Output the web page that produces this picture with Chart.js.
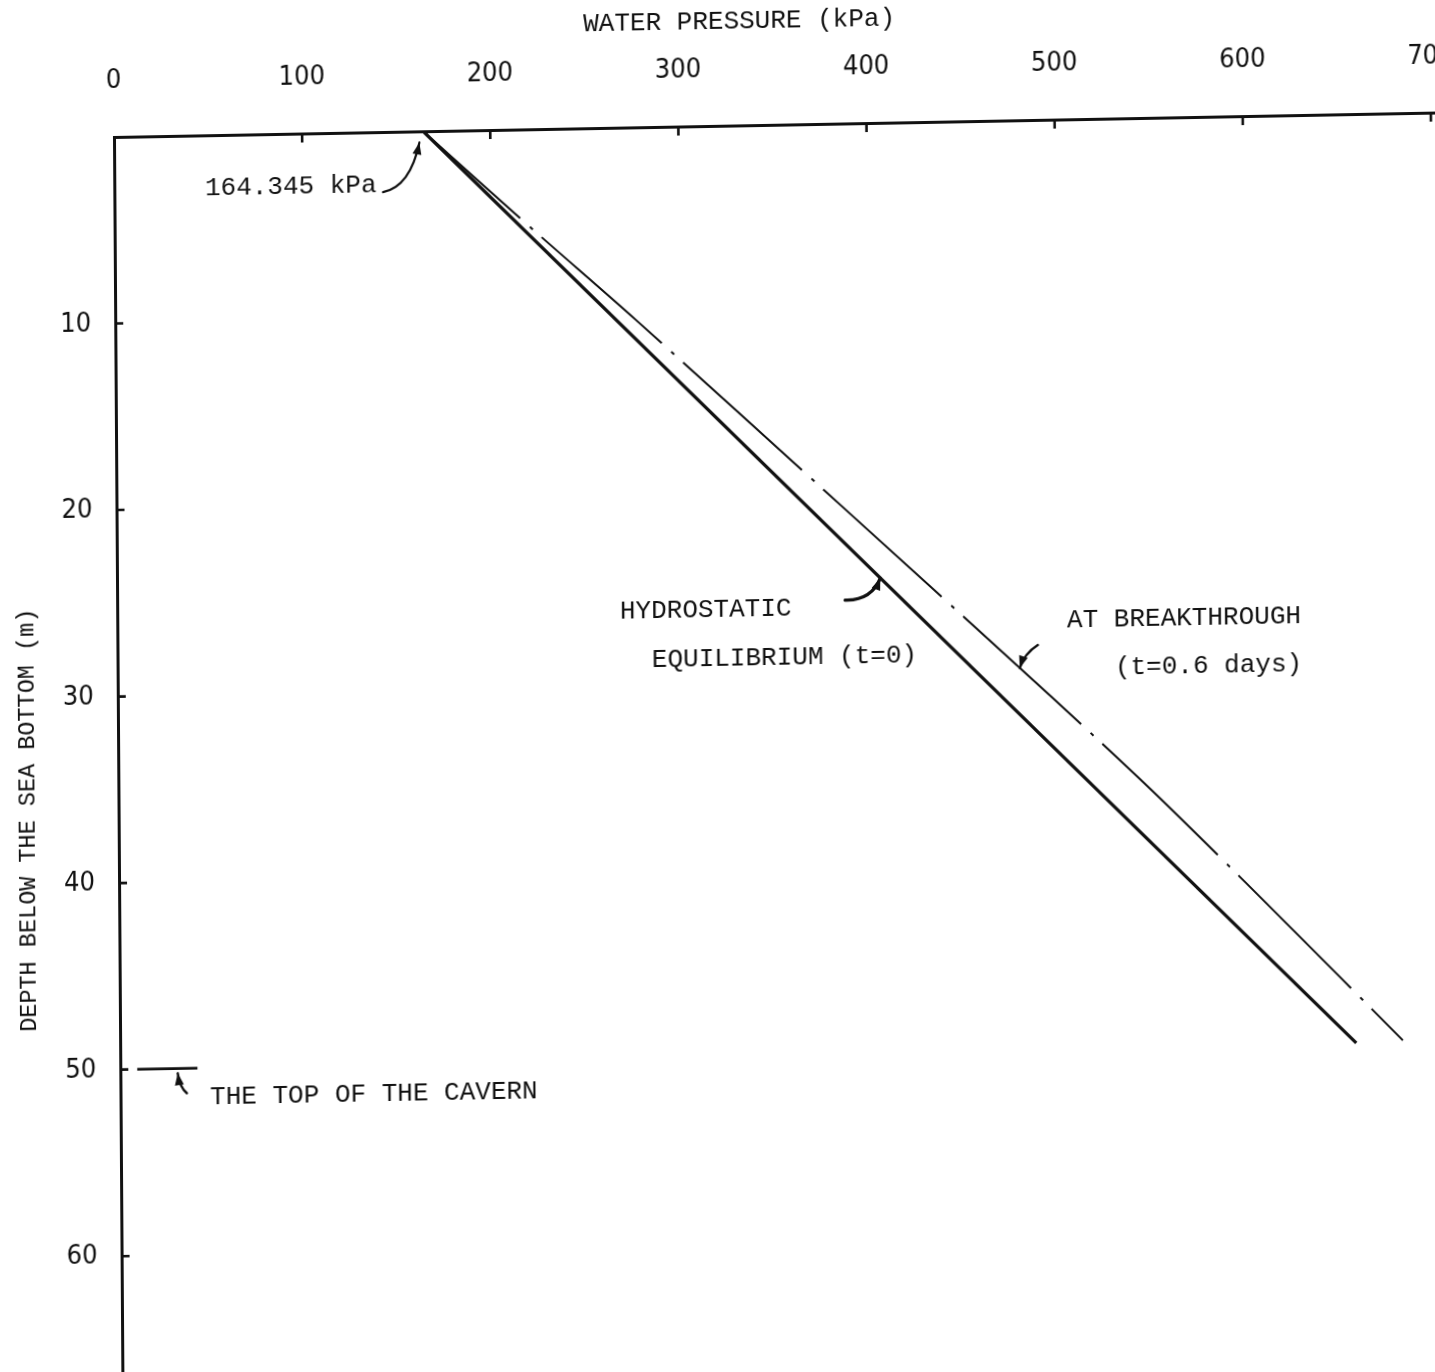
<!DOCTYPE html>
<html>
<head>
<meta charset="utf-8">
<script src="https://cdn.jsdelivr.net/npm/chart.js@4.4.1/dist/chart.umd.min.js"></script>
<style>
  html, body { margin: 0; padding: 0; background: #fff; overflow: hidden; width: 1435px; height: 1372px; }
  /* the scanned sheet is slightly skewed: top axis rises to the right, left axis leans right */
  #sheet { position: absolute; left: 0; top: 0; width: 1480px; height: 1500px;
           transform-origin: 114px 137px; transform: matrix(1, -0.0185, 0.0068, 1, 0, 0); }
</style>
</head>
<body>
<div id="sheet"><canvas id="profile" width="1480" height="1500"></canvas></div>
<script>
// water pressure (kPa) against depth below the sea bottom (m)
var hydroPressure = [164.345, 657];
var hydroDepth = [0, 49.8];

var breakPressure = [164.345, 222.6, 276.5, 387.5, 496.9, 548.7, 598.9, 649.1, 681.8];
var breakDepth = [0, 5.4, 10.3, 20.7, 31.0, 36.0, 41.1, 46.3, 49.7];

var cavernPressure = [9, 41];
var cavernDepth = [50, 50];

var pressureTicks = [0, 100, 200, 300, 400, 500, 600, 700];
var depthTicks = [10, 20, 30, 40, 50, 60];

var MONO = "'Liberation Mono', 'DejaVu Sans Mono', monospace";
var NARROW = "'Liberation Sans Narrow', 'DejaVu Sans Condensed', 'Liberation Sans', sans-serif";

function toPoints(xs, ys) {
    var pts = [];
    for (var i = 0; i < xs.length; i++) {
        pts.push({x: xs[i], y: ys[i]});
    }
    return pts;
}

// hand lettering on the sheet, anchored in data units (kPa, m)
var notes = [
    {text: '164.345 kPa', x: 48.2, y: 2.83},
    {text: 'HYDROSTATIC', x: 267.2, y: 25.97},
    {text: 'EQUILIBRIUM (t=0)', x: 284.0, y: 28.57},
    {text: 'AT BREAKTHROUGH', x: 504.8, y: 26.84},
    {text: '(t=0.6 days)', x: 530.1, y: 29.46},
    {text: 'THE TOP OF THE CAVERN', x: 47.6, y: 51.56}
];

var arrows = [
    {tail: [142.8, 3.22], ctrl: [157.3, 2.95], tip: [162.3, 0.6], w: 2.2},
    {tail: [386.9, 25.55], ctrl: [401.0, 25.6], tip: [405.7, 24.4], w: 3.2},
    {tail: [489.2, 28.15], ctrl: [482.0, 28.6], tip: [479.5, 29.36], w: 2.4},
    {tail: [35.3, 51.33], ctrl: [31.5, 51.0], tip: [30.5, 50.25], w: 2.4}
];

function drawArrow(ctx, t, c, h, w) {
    ctx.lineWidth = w;
    ctx.beginPath();
    ctx.moveTo(t[0], t[1]);
    ctx.quadraticCurveTo(c[0], c[1], h[0], h[1]);
    ctx.stroke();
    var ang = Math.atan2(h[1] - c[1], h[0] - c[0]);
    var len = 12, half = 4.5;
    ctx.beginPath();
    ctx.moveTo(h[0], h[1]);
    ctx.lineTo(h[0] - len * Math.cos(ang) + half * Math.sin(ang), h[1] - len * Math.sin(ang) - half * Math.cos(ang));
    ctx.lineTo(h[0] - len * Math.cos(ang) - half * Math.sin(ang), h[1] - len * Math.sin(ang) + half * Math.cos(ang));
    ctx.closePath();
    ctx.fill();
}

var inkPlugin = {
    id: 'ink',
    afterDraw: function(chart) {
        var ctx = chart.ctx;
        var xs = chart.scales.x;
        var ys = chart.scales.y;
        var area = chart.chartArea;
        ctx.save();
        ctx.strokeStyle = '#111';
        ctx.fillStyle = '#111';

        // tick marks point inwards on this sheet
        ctx.lineWidth = 2.6;
        ctx.beginPath();
        xs.ticks.forEach(function(t) {
            if (t.value === 0) return;
            var px = xs.getPixelForValue(t.value);
            ctx.moveTo(px, area.top);
            ctx.lineTo(px, area.top + 9);
        });
        ys.ticks.forEach(function(t) {
            var py = ys.getPixelForValue(t.value);
            ctx.moveTo(area.left, py);
            ctx.lineTo(area.left + 8, py);
        });
        ctx.stroke();

        ctx.font = '26px ' + MONO;
        ctx.textAlign = 'left';
        ctx.textBaseline = 'middle';
        notes.forEach(function(n) {
            ctx.fillText(n.text, xs.getPixelForValue(n.x), ys.getPixelForValue(n.y));
        });

        ctx.lineCap = 'round';
        arrows.forEach(function(a) {
            var px = function(p) { return [xs.getPixelForValue(p[0]), ys.getPixelForValue(p[1])]; };
            drawArrow(ctx, px(a.tail), px(a.ctrl), px(a.tip), a.w);
        });
        ctx.restore();
    }
};

var ctx = document.getElementById('profile').getContext('2d');

new Chart(ctx, {
    type: 'line',
    data: {
        datasets: [
            {
                label: 'Hydrostatic equilibrium (t=0)',
                data: toPoints(hydroPressure, hydroDepth),
                borderColor: '#111',
                borderWidth: 3.2,
                pointRadius: 0,
                fill: false
            },
            {
                label: 'At breakthrough (t=0.6 days)',
                data: toPoints(breakPressure, breakDepth),
                borderColor: '#111',
                borderWidth: 2,
                borderDash: [161, 13, 4, 12],
                borderDashOffset: 30,
                tension: 0.3,
                pointRadius: 0,
                fill: false
            },
            {
                label: 'Top of the cavern',
                data: toPoints(cavernPressure, cavernDepth),
                borderColor: '#111',
                borderWidth: 2.6,
                pointRadius: 0,
                fill: false
            }
        ]
    },
    options: {
        responsive: false,
        animation: false,
        layout: { padding: 0 },
        plugins: {
            legend: { display: false },
            tooltip: { enabled: false },
            title: {
                display: true,
                text: 'WATER PRESSURE (kPa)',
                color: '#111',
                font: { family: MONO, size: 26, weight: 'normal', lineHeight: 1.2 },
                padding: { top: 18, bottom: 0 }
            }
        },
        scales: {
            x: {
                type: 'linear',
                position: 'top',
                min: 0,
                max: 726,
                grid: { display: false, drawTicks: false },
                border: { display: true, color: '#111', width: 3 },
                afterBuildTicks: function(scale) {
                    scale.ticks = pressureTicks.map(function(v) { return {value: v}; });
                },
                afterFit: function(scale) {
                    scale.height = 87.8;
                    scale.paddingLeft = 0;
                    scale.paddingRight = 0;
                },
                ticks: {
                    color: '#111',
                    padding: 40,
                    maxRotation: 0,
                    font: { family: NARROW, size: 27, lineHeight: 1.2 }
                }
            },
            y: {
                type: 'linear',
                reverse: true,
                min: 0,
                max: 73.07,
                grid: { display: false, drawTicks: false },
                border: { display: true, color: '#111', width: 3 },
                afterBuildTicks: function(scale) {
                    scale.ticks = depthTicks.map(function(v) { return {value: v}; });
                },
                afterFit: function(scale) {
                    scale.width = 114;
                    scale.paddingTop = 0;
                    scale.paddingBottom = 0;
                },
                ticks: {
                    color: '#111',
                    padding: 24,
                    font: { family: NARROW, size: 27, lineHeight: 1.2 }
                },
                title: {
                    display: true,
                    text: 'DEPTH BELOW THE SEA BOTTOM (m)',
                    color: '#111',
                    font: { family: MONO, size: 23.5, lineHeight: 1.2 },
                    padding: { top: 10, bottom: 0 }
                }
            }
        }
    },
    plugins: [inkPlugin]
});
</script>
</body>
</html>
